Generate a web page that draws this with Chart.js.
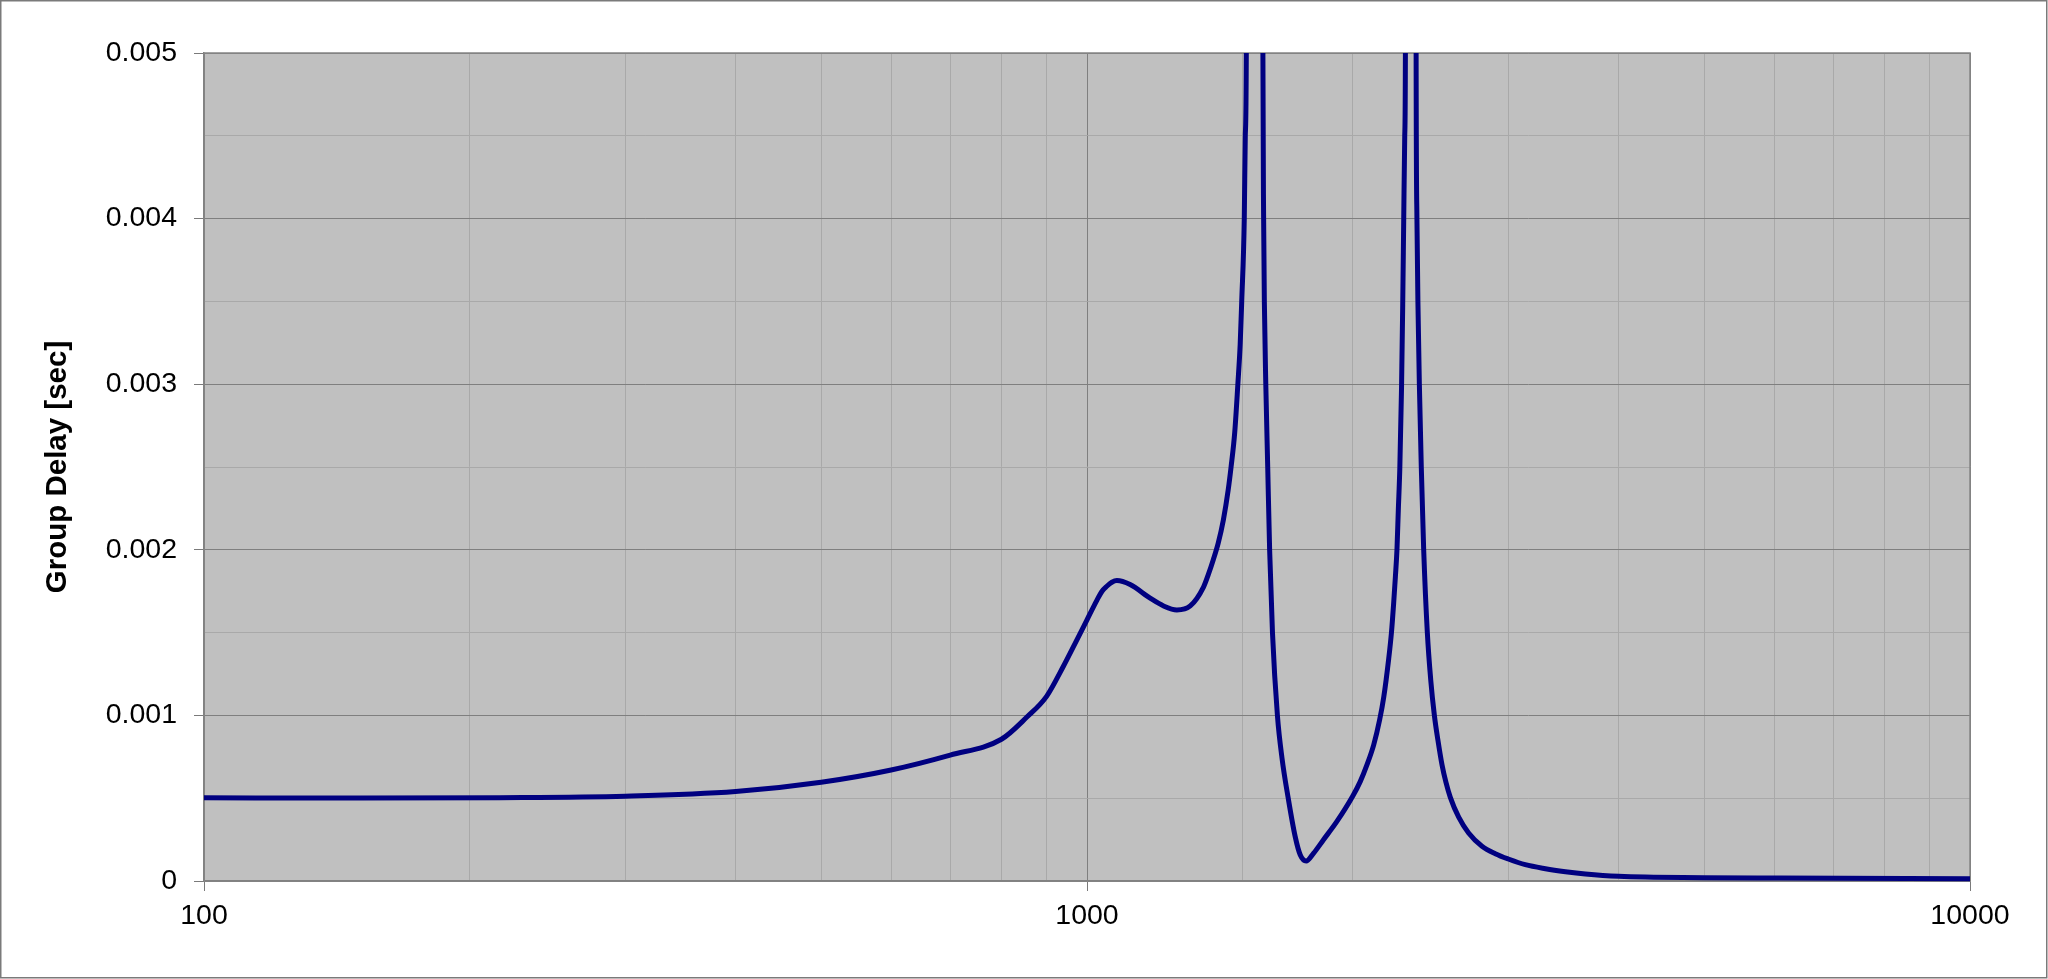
<!DOCTYPE html>
<html>
<head>
<meta charset="utf-8">
<script src="https://cdn.jsdelivr.net/npm/chart.js@4.4.1/dist/chart.umd.min.js"></script>
<style>
  html, body { margin: 0; padding: 0; background: #fff; }
  canvas { display: block; }
</style>
</head>
<body>
<canvas id="myChart" width="2048" height="979"></canvas>
<script>
// frequency [Hz] and group delay [sec]
const freqs = [100, 150, 216, 300, 400, 500, 600, 700, 800, 855, 900, 940, 974, 1000,
  1026, 1040, 1053, 1067, 1081, 1119, 1179, 1221, 1264, 1309, 1355, 1372, 1390, 1408,
  1427, 1445, 1456, 1470, 1482, 1491, 1497, 1507, 1511, 1515, 1548,
  1582, 1585, 1588, 1594, 1602, 1610, 1622, 1643, 1663, 1690, 1721, 1744, 1771,
  1805, 1852, 1918, 2000, 2039, 2075, 2112, 2145, 2168, 2196, 2212, 2225, 2235, 2244,
  2252, 2261, 2271, 2278, 2284, 2290, 2294, 2326,
  2359, 2364, 2370, 2379, 2391, 2406, 2429, 2451, 2474, 2497, 2524, 2550, 2579, 2636,
  2705, 2801, 2900, 3000, 3136, 3305, 3482, 3668, 4000, 5000, 6100, 10000];
const delays = [0.000502, 0.000501, 0.000503, 0.000512, 0.000540, 0.000596, 0.000670,
  0.000760, 0.000856, 0.000990, 0.001115, 0.001295, 0.001456, 0.001577,
  0.001695, 0.001750, 0.001780, 0.001804, 0.001814, 0.001790, 0.001708, 0.001661,
  0.001637, 0.001661, 0.001775, 0.001850, 0.001940, 0.002040,
  0.002180, 0.002360, 0.002500, 0.002710, 0.003000, 0.003240, 0.003500, 0.004000,
  0.004500, 0.005000, 0.050000,
  0.005000, 0.004000, 0.003500, 0.003000, 0.002500, 0.002000, 0.001500, 0.001000,
  0.000740, 0.000500, 0.000268, 0.000157, 0.000121,
  0.000167, 0.000248, 0.000358, 0.000513, 0.000600, 0.000701, 0.000822, 0.000973,
  0.001110, 0.001340, 0.001500, 0.001680, 0.001840, 0.002000,
  0.002240, 0.002500, 0.002980, 0.003480, 0.004000, 0.004500, 0.005000, 0.050000,
  0.005000, 0.004000, 0.003500, 0.003000, 0.002500, 0.002000, 0.001500, 0.001210,
  0.001000, 0.000850, 0.000700, 0.000595, 0.000505, 0.000385,
  0.000290, 0.000210, 0.000165, 0.000133, 0.0000987, 0.0000745, 0.0000564,
  0.0000423, 0.000028, 0.000020, 0.000018, 0.000014];
const xTicks = [100, 1000, 10000];
const yTicks = [0, 0.001, 0.002, 0.003, 0.004, 0.005];
const yTitle = 'Group Delay [sec]';

const majorGrid = '#7f7f7f';
const minorGrid = '#a9a9a9';
const font = 'Liberation Sans, Arial, sans-serif';

function isMajorX(v) {
  return xTicks.some(t => Math.abs(v - t) < 1e-6);
}
function isMajorY(v) {
  return yTicks.some(t => Math.abs(v - t) < 1e-9);
}

const plotBg = {
  id: 'plotBg',
  beforeDraw(chart) {
    const {ctx, chartArea: a} = chart;
    ctx.save();
    ctx.fillStyle = '#fff';
    ctx.fillRect(0, 0, chart.width, chart.height);
    ctx.fillStyle = '#c0c0c0';
    ctx.fillRect(a.left, a.top, a.right - a.left, a.bottom - a.top);
    ctx.restore();
  },
  beforeDatasetsDraw(chart) {
    const {ctx, chartArea: a} = chart;
    ctx.save();
    ctx.strokeStyle = '#858585';
    ctx.lineWidth = 1.5;
    ctx.strokeRect(a.left, a.top, a.right - a.left, a.bottom - a.top);
    ctx.restore();
  },
  afterDraw(chart) {
    const ctx = chart.ctx;
    ctx.save();
    ctx.strokeStyle = '#7a7a7a';
    ctx.lineWidth = 1.5;
    ctx.strokeRect(0.75, 0.75, chart.width - 2, chart.height - 2);
    ctx.restore();
  }
};

const ctx = document.getElementById('myChart');

new Chart(ctx, {
  type: 'line',
  data: {
    datasets: [{
      label: yTitle,
      data: freqs.map((f, i) => ({x: f, y: delays[i]})),
      borderColor: '#000080',
      borderWidth: 5,
      pointRadius: 0,
      cubicInterpolationMode: 'monotone',
      clip: {left: 0, top: 0, right: 0, bottom: 5}
    }]
  },
  options: {
    responsive: false,
    animation: false,
    layout: {
      padding: {left: 0, top: 53, right: 78, bottom: 0}
    },
    plugins: {
      legend: {display: false},
      tooltip: {enabled: false}
    },
    scales: {
      x: {
        type: 'logarithmic',
        min: 100,
        max: 10000,
        afterFit(scale) { scale.height = 98; },
        border: {color: '#7a7a7a', width: 1.5},
        grid: {
          color: c => isMajorX(c.tick.value) ? majorGrid : minorGrid,
          tickColor: c => isMajorX(c.tick.value) ? '#7a7a7a' : 'rgba(0,0,0,0)',
          tickLength: 10,
          lineWidth: 1
        },
        ticks: {
          autoSkip: false,
          maxRotation: 0,
          padding: 8,
          color: '#000',
          font: {family: font, size: 28.5},
          callback: v => isMajorX(v) ? String(v) : ''
        }
      },
      y: {
        min: 0,
        max: 0.005,
        afterFit(scale) { scale.width = 204; },
        border: {color: '#7a7a7a', width: 1.5},
        grid: {
          color: c => isMajorY(c.tick.value) ? majorGrid : minorGrid,
          tickColor: c => isMajorY(c.tick.value) ? '#7a7a7a' : 'rgba(0,0,0,0)',
          tickLength: 10,
          lineWidth: 1
        },
        ticks: {
          stepSize: 0.0005,
          autoSkip: false,
          padding: 17,
          color: '#000',
          font: {family: font, size: 28.5},
          callback: v => isMajorY(v) ? (Math.abs(v) < 1e-12 ? '0' : v.toFixed(3)) : ''
        },
        title: {
          display: true,
          text: yTitle,
          color: '#000',
          padding: {top: 40, bottom: 0},
          font: {family: font, size: 29.5, weight: 'bold'}
        }
      }
    }
  },
  plugins: [plotBg]
});
</script>
</body>
</html>
